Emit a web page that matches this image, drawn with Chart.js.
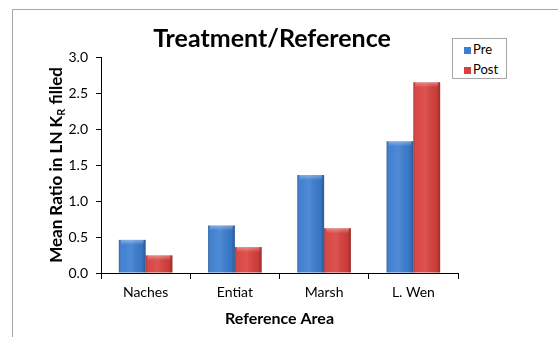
<!DOCTYPE html>
<html>
<head>
<meta charset="utf-8">
<script src="https://cdn.jsdelivr.net/npm/chart.js@4.4.0/dist/chart.umd.min.js"></script>
<style>
  html, body { margin: 0; padding: 0; background: #fff; }
  #wrap { position: relative; width: 558px; height: 337px; overflow: hidden; }
  #frame { position: absolute; left: 12px; top: 9px; width: 600px; height: 400px;
           border-left: 1px solid #a6a6a6; border-top: 1px solid #a6a6a6; }
  #legend { position: absolute; left: 452px; top: 38px; width: 53px; height: 39px;
            border: 1px solid #a6a6a6; background: #fff;
            font: 13px Lato, "Open Sans", sans-serif; color: #000; }
  #legend div { position: absolute; left: 11px; height: 16px; line-height: 16px; }
  #legend span { display: inline-block; width: 7px; height: 7px; margin-right: 2px; vertical-align: 0px; }
</style>
</head>
<body>
<div id="wrap">
  <div id="frame"></div>
  <canvas id="chart" width="558" height="337" style="position:absolute;left:0;top:0"></canvas>
  <div id="legend"></div>
</div>
<script>
var areas = ['Naches', 'Entiat', 'Marsh', 'L. Wen'];
var preValues = [0.46, 0.66, 1.36, 1.83];
var postValues = [0.245, 0.36, 0.62, 2.65];
var yTicks = [0, 0.5, 1.0, 1.5, 2.0, 2.5, 3.0];
var chartTitle = 'Treatment/Reference';

var FONT = 'Lato, "Open Sans", sans-serif';

// bevel look on the bars, drawn over the library's own bar rectangles
var bevel = {
  id: 'bevel',
  afterDatasetsDraw(chart) {
    const ctx = chart.ctx;
    chart.data.datasets.forEach((ds, i) => {
      chart.getDatasetMeta(i).data.forEach(bar => {
        const left = bar.x - bar.width / 2, top = bar.y, h = bar.base - bar.y;
        const g = ctx.createLinearGradient(left, 0, left + bar.width, 0);
        g.addColorStop(0, 'rgba(0,0,0,0.22)');
        g.addColorStop(0.12, 'rgba(255,255,255,0.04)');
        g.addColorStop(0.45, 'rgba(255,255,255,0.10)');
        g.addColorStop(0.85, 'rgba(0,0,0,0.05)');
        g.addColorStop(1, 'rgba(0,0,0,0.28)');
        ctx.save();
        ctx.fillStyle = g;
        ctx.fillRect(left, top, bar.width, h);
        const t = ctx.createLinearGradient(0, top, 0, top + 5);
        t.addColorStop(0, 'rgba(255,255,255,0.35)');
        t.addColorStop(1, 'rgba(255,255,255,0)');
        ctx.fillStyle = t;
        ctx.fillRect(left + 2, top, bar.width - 4, 5);
        ctx.restore();
      });
    });
  }
};

// title centred over the whole figure, and y-axis title with subscript R
var texts = {
  id: 'texts',
  afterDraw(chart) {
    const ctx = chart.ctx;
    const a = chart.chartArea;
    ctx.save();
    ctx.fillStyle = '#000';
    ctx.font = 'bold 25px ' + FONT;
    ctx.textAlign = 'center';
    ctx.textBaseline = 'alphabetic';
    ctx.fillText(chartTitle, 272, 47);
    ctx.restore();

    const big = 'bold 17px ' + FONT, small = 'bold 11px ' + FONT;
    const parts = [['Mean Ratio in LN K', big, 0], ['R', small, 4], [' filled', big, 0]];
    ctx.save();
    let total = 0;
    parts.forEach(p => { ctx.font = p[1]; total += ctx.measureText(p[0]).width; });
    ctx.translate(57, (a.top + a.bottom) / 2);
    ctx.rotate(-Math.PI / 2);
    ctx.fillStyle = '#000';
    ctx.textBaseline = 'middle';
    let x = -total / 2;
    parts.forEach(p => {
      ctx.font = p[1];
      ctx.fillText(p[0], x, p[2]);
      x += ctx.measureText(p[0]).width;
    });
    ctx.restore();
  }
};

var chart = new Chart(document.getElementById('chart'), {
  type: 'bar',
  data: {
    labels: areas,
    datasets: [
      { label: 'Pre', data: preValues, backgroundColor: '#3b7dd0' },
      { label: 'Post', data: postValues, backgroundColor: '#d8403d' }
    ]
  },
  options: {
    responsive: false,
    animation: false,
    events: [],
    categoryPercentage: 0.6,
    barPercentage: 1.0,
    layout: { padding: { left: 0, right: 100, top: 57, bottom: 0 } },
    plugins: {
      legend: { display: false },
      tooltip: { enabled: false },
      title: { display: false }
    },
    scales: {
      x: {
        grid: { display: true, drawOnChartArea: false, drawTicks: true, tickLength: 6, color: '#000' },
        border: { color: '#000', width: 1 },
        ticks: { color: '#000', font: { family: FONT, size: 14 }, padding: 5 },
        title: { display: true, text: 'Reference Area', color: '#000',
                 font: { family: FONT, size: 16, weight: 'bold' }, padding: { top: 4, bottom: 9 } },
        afterFit(s) { s.height = 64; }
      },
      y: {
        min: 0, max: 3,
        afterBuildTicks(s) { s.ticks = yTicks.map(v => ({ value: v })); },
        grid: { display: true, drawOnChartArea: false, drawTicks: true, tickLength: 5, color: '#000' },
        border: { color: '#000', width: 1 },
        ticks: { color: '#000', font: { family: FONT, size: 14 }, padding: 8,
                 callback: v => v.toFixed(1) },
        afterFit(s) { s.width = 101; }
      }
    }
  },
  plugins: [bevel, texts]
});

var legend = document.getElementById('legend');
chart.data.datasets.forEach((ds, i) => {
  var item = document.createElement('div');
  item.style.top = (2 + i * 20) + 'px';
  item.innerHTML = '<span style="background:' + ds.backgroundColor + '"></span>' + ds.label;
  legend.appendChild(item);
});
</script>
</body>
</html>
